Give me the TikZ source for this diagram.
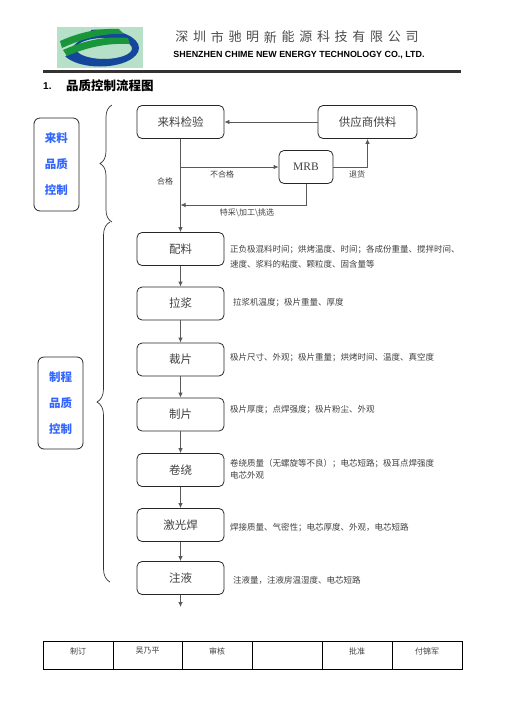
\documentclass[tikz,border=0pt]{standalone}
\usepackage{fontspec}
\setmainfont{Liberation Serif}
\newfontfamily\cjk{Noto Sans CJK SC}
\newfontfamily\arial{Liberation Sans}
\usetikzlibrary{decorations.pathreplacing,arrows.meta}
\definecolor{logobg}{RGB}{183,224,200}
\definecolor{logoblue}{RGB}{20,70,155}
\definecolor{logogreen}{RGB}{25,150,60}
\definecolor{sideblue}{RGB}{51,102,255}
\tikzset{
  proc/.style={draw=black!85, line width=0.8pt, rounded corners=5pt, minimum width=87pt,
    minimum height=33pt, inner sep=0pt, font=\cjk\fontsize{11.5}{12}\selectfont, text=black!75},
  side/.style={draw=black!85, line width=0.8pt, rounded corners=6pt, minimum width=45pt,
    minimum height=93pt, inner sep=0pt, align=center, text=sideblue,
    font=\cjk\bfseries\fontsize{11.5}{26}\selectfont},
  desc/.style={anchor=west, inner sep=0pt, align=left, text=black!75,
    font=\cjk\fontsize{8.5}{13}\selectfont},
  lbl/.style={inner sep=0pt, text=black!75, font=\cjk\fontsize{8}{9}\selectfont},
  flow/.style={draw=black!65, line width=0.8pt, -{Latex[length=5pt,width=4.5pt]}},
  bracestyle/.style={draw=black!80, line width=0.7pt, decorate},
  cell/.style={inner sep=0pt, text=black!75, font=\cjk\fontsize{8}{9}\selectfont},
}
\begin{document}
\begin{tikzpicture}[x=1pt,y=-1pt]
\useasboundingbox (0,0) rectangle (504,713);
% logo
\fill[logobg] (57,27) rectangle (143,68);
\fill[logoblue, even odd rule] (100,48) ellipse [x radius=39, y radius=18.5]
  (104,48.5) ellipse [x radius=28, y radius=10.5];
\fill[logobg] (58,36) .. controls (70,32) and (80,29) .. (90,28) -- (92,34)
  .. controls (82,38) and (72,44) .. (66,56) -- (58,56) -- cycle;
\fill[logogreen] (60,41) .. controls (80,32) and (100,28) .. (119,29) -- (124,34)
  .. controls (104,33) and (84,38) .. (62,48) -- cycle;
\fill[logogreen] (63,50) .. controls (85,40) and (107,36) .. (128,38) -- (130,44)
  .. controls (110,43) and (90,46) .. (67,56) -- cycle;
% header text
\foreach \c [count=\i] in {深,圳,市,驰,明,新,能,源,科,技,有,限,公,司}
  \node[inner sep=0pt, text=black!70, font=\cjk\fontsize{13}{14}\selectfont] (t\i) at (164.2+\i*17.7,37) {\c};
\node[inner sep=0pt, font=\arial\bfseries\fontsize{8.9}{10}\selectfont] (eng) at (299,55) {SHENZHEN CHIME NEW ENERGY TECHNOLOGY CO., LTD.};
\draw[line width=3pt, black!80] (43,71) -- (461,71);
\node[anchor=west, inner sep=0pt, font=\arial\bfseries\fontsize{10}{11}\selectfont] (num) at (43,86) {1.};
\node[anchor=west, inner sep=0pt, font=\cjk\bfseries\fontsize{12.5}{13}\selectfont] (ttl) at (66,86) {品质控制流程图};
% side boxes
\node[side] (s1) at (56.5,164.5) {来料\\品质\\控制};
\node[side, minimum height=92pt] (s2) at (60.5,403) {制程\\品质\\控制};
% braces
\draw[bracestyle, decoration={brace, amplitude=12pt}] (112,222) -- (112,105);
\draw[bracestyle, decoration={brace, amplitude=13pt}] (110,582) -- (110,222);
% boxes
\node[proc] (ll) at (180.5,122) {来料检验};
\node[proc, minimum width=99pt] (gy) at (367.5,122) {供应商供料};
\node[proc, minimum width=54pt, font=\fontsize{11.5}{12}\selectfont] (mrb) at (306,167) {MRB};
\node[proc] (pl) at (180.5,249) {配料};
\node[proc] (lj) at (180.5,303.5) {拉浆};
\node[proc] (cp) at (180.5,359.5) {裁片};
\node[proc] (zp) at (180.5,414.5) {制片};
\node[proc] (jr) at (180.5,470) {卷绕};
\node[proc] (jg) at (180.5,525) {激光焊};
\node[proc] (zy) at (180.5,578) {注液};
\coordinate (end) at (180.5,607);
\coordinate (j1) at (ll.south |- mrb.west);
\coordinate (j2) at (180.5,205);
\coordinate (m2) at (mrb.south |- j2);
% connectors
\draw[flow] (ll.south) -- (pl.north);
\draw[flow] (j1) -- (mrb.west);
\draw[flow] (mrb.east) -| (gy.south);
\draw[flow] (gy.west) -- (ll.east);
\draw[flow] (mrb.south) -- (m2) -- (j2);
\draw[flow] (pl) -- (lj);
\draw[flow] (lj) -- (cp);
\draw[flow] (cp) -- (zp);
\draw[flow] (zp) -- (jr);
\draw[flow] (jr) -- (jg);
\draw[flow] (jg) -- (zy);
\draw[flow] (zy) -- (end);
% labels
\node[lbl] (l1) at (222,174) {不合格};
\node[lbl] (l2) at (165,181) {合格};
\node[lbl] (l3) at (357,174) {退货};
\node[lbl] (l4) at (247,213) {特采\textbackslash 加工\textbackslash 挑选};
% descriptions
\node[desc, font=\cjk\fontsize{8.5}{15}\selectfont] (d1) at (230,257) {正负极混料时间；烘烤温度、时间；各成份重量、搅拌时间、\\速度、浆料的粘度、颗粒度、固含量等};
\node[desc] (d2) at (233,303) {拉浆机温度；极片重量、厚度};
\node[desc] (d3) at (230,358) {极片尺寸、外观；极片重量；烘烤时间、温度、真空度};
\node[desc] (d4) at (230,410) {极片厚度；点焊强度；极片粉尘、外观};
\node[desc, font=\cjk\fontsize{8.5}{12}\selectfont] (d5) at (230,469) {卷绕质量（无螺旋等不良）；电芯短路；极耳点焊强度\\电芯外观};
\node[desc] (d6) at (230,528) {焊接质量、气密性；电芯厚度、外观，电芯短路};
\node[desc] (d7) at (233,580) {注液量，注液房温湿度、电芯短路};
% table
\draw[line width=0.8pt] (43,641) rectangle (462,669);
\foreach \x in {113,182,252,322,392} \draw[line width=0.8pt] (\x,641) -- (\x,669);
\node[cell] (c1) at (78,651) {制订};
\node[cell] (c2) at (147.5,651) {吴乃平};
\node[cell] (c3) at (217,651) {审核};
\node[cell] (c5) at (357,651) {批准};
\node[cell] (c6) at (427,651) {付锦军};
\end{tikzpicture}
\end{document}
